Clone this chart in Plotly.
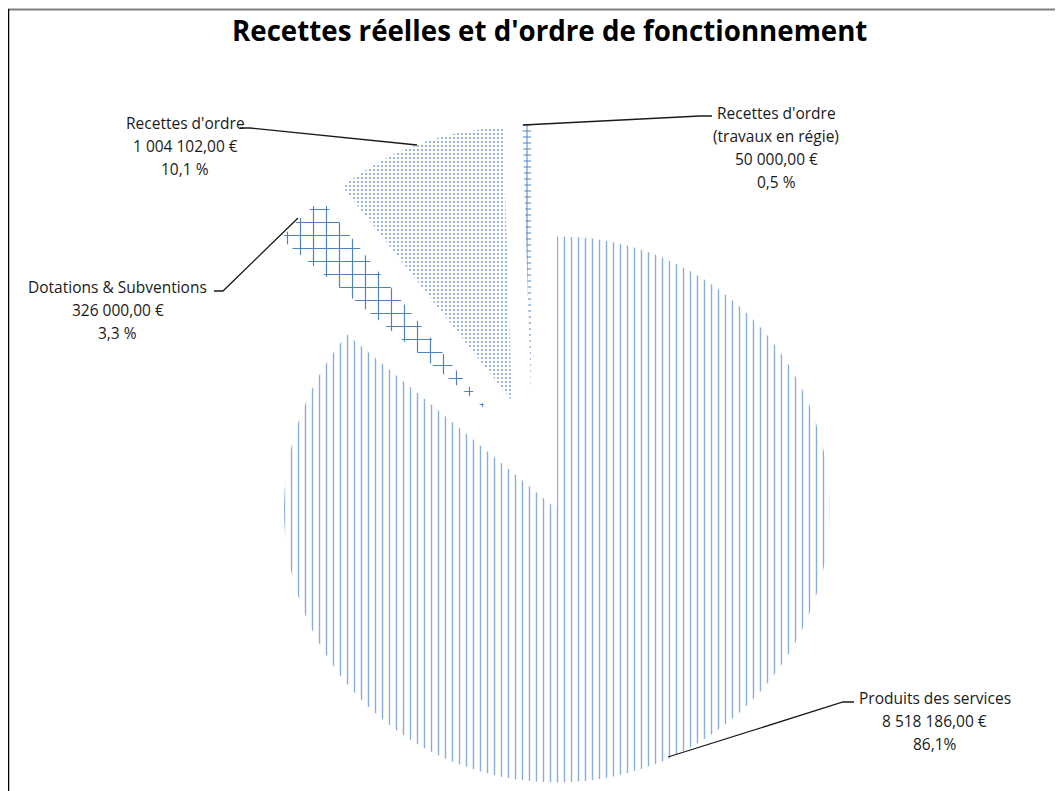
import plotly.graph_objects as go

# ---- data ----
categories = ["Produits des services", "Dotations & Subventions", "Recettes d'ordre",
              "Recettes d'ordre<br>(travaux en régie)"]
values = [8518186.00, 326000.00, 1004102.00, 50000.00]
percent_labels = ["86,1%", "3,3 %", "10,1 %", "0,5 %"]
title_text = "Recettes réelles et d'ordre de fonctionnement"

# page body has an 8px default margin; size the figure to fit the window
OFF = 8
W, H = 1063 - OFF, 791 - OFF


def fr_money(v):
    s = f"{v:,.2f}"
    return s.replace(",", " ").replace(".", ",") + " €"


def px(x):
    """screen pixel x -> paper fraction"""
    return (x - OFF) / W


def py(y):
    """screen pixel y -> paper fraction"""
    return 1 - (y - OFF) / H


patterns = [
    dict(shape="|", size=7, solidity=0.2, fgcolor="#8aaedb"),
    dict(shape="+", size=13, solidity=0.17, fgcolor="#4F81BD"),
    dict(shape=".", size=4, solidity=0.22, fgcolor="#7fa5d6"),
    dict(shape="+", size=6, solidity=0.3, fgcolor="#4F81BD"),
]

pull = 0.216
dom_x = [px(200), px(864)]
dom_y = [py(788), py(124)]

fig = go.Figure(go.Pie(
    labels=categories,
    values=values,
    sort=False,
    direction="clockwise",
    rotation=0,
    pull=[pull] * len(values),
    textinfo="none",
    hoverinfo="label+value+percent",
    marker=dict(
        colors=["white"] * len(values),
        line=dict(width=0),
        pattern=dict(
            shape=[p["shape"] for p in patterns],
            size=[p["size"] for p in patterns],
            solidity=[p["solidity"] for p in patterns],
            fgcolor=[p["fgcolor"] for p in patterns],
            bgcolor=["white"] * len(patterns),
            fgopacity=1,
        ),
    ),
    domain=dict(x=dom_x, y=dom_y),
    showlegend=False,
))

# label blocks: (center x, first line y) in screen pixels
label_pos = [(934.5, 698), (117.5, 287), (185, 123), (776, 113)]
line_gap = 23

annotations = []
for i, (cx, cy) in enumerate(label_pos):
    lines = categories[i].split("<br>") + [fr_money(values[i]), percent_labels[i]]
    for j, t in enumerate(lines):
        annotations.append(dict(
            x=px(cx), y=py(cy + j * line_gap), xref="paper", yref="paper",
            text=t, showarrow=False, xanchor="center", yanchor="middle",
            font=dict(family="Open Sans, Lato, sans-serif", size=15.5, color="#1a1a1a"),
        ))

annotations.append(dict(
    x=px(549), y=py(30), xref="paper", yref="paper", text=f"<b>{title_text}</b>",
    showarrow=False, xanchor="center", yanchor="middle",
    font=dict(family="Open Sans, Lato, sans-serif", size=27.7, color="#000000"),
))

# leader lines (screen pixel paths)
leaders = [
    [(854, 702), (843, 702), (668, 757)],
    [(214, 291), (223, 291), (298, 218)],
    [(240, 128), (250, 128), (417, 145)],
    [(712, 116), (700, 116), (523, 125)],
]
shapes = []
for pts in leaders:
    d = "M " + " L ".join(f"{px(x)},{py(y)}" for x, y in pts)
    shapes.append(dict(type="path", xref="paper", yref="paper", path=d,
                       line=dict(color="#1a1a1a", width=1.3)))

# chart frame
shapes.append(dict(type="line", xref="paper", yref="paper", x0=0, y0=py(9.5), x1=1, y1=py(9.5),
                   line=dict(color="#7f7f7f", width=2)))
shapes.append(dict(type="line", xref="paper", yref="paper", x0=0, y0=py(9), x1=0, y1=0,
                   line=dict(color="#000000", width=2.5)))

fig.update_layout(
    width=W, height=H,
    margin=dict(l=0, r=0, t=0, b=0),
    paper_bgcolor="white",
    plot_bgcolor="white",
    annotations=annotations,
    shapes=shapes,
)

fig.write_html("out.html")
